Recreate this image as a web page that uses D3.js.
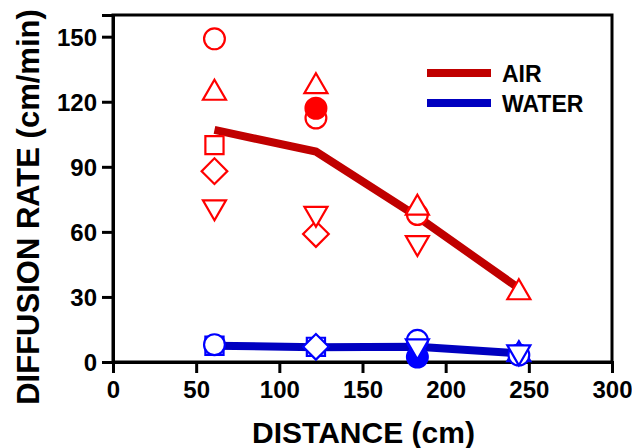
<!DOCTYPE html>
<html>
<head>
<meta charset="utf-8">
<script src="https://cdn.jsdelivr.net/npm/d3@7"></script>
<style>
  body { margin: 0; background: #fff; }
  text { font-family: "Liberation Sans", Arial, sans-serif; font-weight: bold; }
</style>
</head>
<body>
<div id="chart"></div>
<script>
const w = 632;
const h = 448;

const margin = { left: 113, right: 20, top: 15, bottom: 86 };

// distances (cm)
const distances = [61, 122, 183, 244];
const xTicks = [0, 50, 100, 150, 200, 250, 300];
const yTicks = [0, 30, 60, 90, 120, 150];

// mean lines
const airMean = [107, 97, 67, 34];
const waterMean = [7.5, 6.8, 7, 4];

// individual runs, air (null = no point)
const airCircle = [149, 112.5, 68, null];
const airDot = [null, 117, null, null];
const airTriUp = [124, 127, 71, 32];
const airTriDown = [71.5, 68.5, 55, null];
const airSquare = [100, null, null, null];
const airDiamond = [88, 59, null, null];

// individual runs, water
const waterCircle = [8, null, 10, 3.2];
const waterDot = [null, null, 2.3, null];
const waterTriUp = [null, null, null, 3.5];
const waterTriDown = [null, null, 7.4, 4.6];
const waterSquare = [7.5, 7, null, null];
const waterDiamond = [null, 7, null, null];

const svg = d3.select("#chart")
    .append("svg")
    .attr("width", w)
    .attr("height", h);

const x = d3.scaleLinear().domain([0, 300]).range([margin.left, w - margin.right]);
const y = d3.scaleLinear().domain([0, 160]).range([h - margin.bottom, margin.top]);

// frame
svg.append("rect")
    .attr("x", x(0)).attr("y", y(160))
    .attr("width", x(300) - x(0)).attr("height", y(0) - y(160))
    .attr("fill", "none").attr("stroke", "#000").attr("stroke-width", 3);

// axes
const xAxis = svg.append("g")
    .attr("transform", "translate(0," + y(0) + ")")
    .call(d3.axisBottom(x).tickValues(xTicks).tickSize(11).tickPadding(8));
const yAxis = svg.append("g")
    .attr("transform", "translate(" + x(0) + ",0)")
    .call(d3.axisLeft(y).tickValues(yTicks).tickSize(11).tickPadding(5));

[xAxis, yAxis].forEach(function(g) {
    g.select(".domain").attr("stroke-width", 3);
    g.selectAll(".tick line").attr("stroke-width", 3);
    g.selectAll(".tick text").attr("font-size", 24).attr("fill", "#000")
        .style("font-family", '"Liberation Sans", Arial, sans-serif').style("font-weight", "bold");
});
yAxis.selectAll(".tick text").attr("dy", "0.36em");

// titles
svg.append("text")
    .attr("x", (x(0) + x(300)) / 2 + 1).attr("y", 443)
    .attr("text-anchor", "middle").attr("font-size", 30)
    .text("DISTANCE (cm)");
svg.append("text")
    .attr("transform", "translate(39," + 207 + ") rotate(-90)")
    .attr("text-anchor", "middle").attr("font-size", 31)
    .text("DIFFUSION RATE (cm/min)");

// mean lines
const line = d3.line()
    .x(function(d, i) { return x(distances[i]); })
    .y(function(d) { return y(d); });

svg.append("path").datum(airMean)
    .attr("d", line).attr("fill", "none")
    .attr("stroke", "#c00000").attr("stroke-width", 8);
svg.append("path").datum(waterMean)
    .attr("d", line).attr("fill", "none")
    .attr("stroke", "#0000c0").attr("stroke-width", 8);

// markers
const shapes = {
    circle: { type: d3.symbolCircle, size: 340, rot: 0, filled: false },
    dot: { type: d3.symbolCircle, size: 340, rot: 0, filled: true },
    triUp: { type: d3.symbolTriangle, size: 230, rot: 0, filled: false },
    triDown: { type: d3.symbolTriangle, size: 230, rot: 180, filled: false },
    square: { type: d3.symbolSquare, size: 330, rot: 0, filled: false },
    diamond: { type: d3.symbolSquare, size: 330, rot: 45, filled: false }
};

let drawRun = function(values, shapeName, color) {
    const s = shapes[shapeName];
    const pts = values.map(function(v, i) { return { d: distances[i], v: v }; })
        .filter(function(p) { return p.v !== null; });
    svg.append("g").selectAll("path")
        .data(pts)
        .enter()
        .append("path")
        .attr("d", d3.symbol().type(s.type).size(s.size))
        .attr("transform", function(p) {
            return "translate(" + x(p.d) + "," + y(p.v) + ") rotate(" + s.rot + ")";
        })
        .attr("fill", s.filled ? color : "#fff")
        .attr("stroke", color)
        .attr("stroke-width", 2.2);
};

drawRun(airSquare, "square", "#ff0000");
drawRun(airDiamond, "diamond", "#ff0000");
drawRun(airTriDown, "triDown", "#ff0000");
drawRun(airCircle, "circle", "#ff0000");
drawRun(airDot, "dot", "#ff0000");
drawRun(airTriUp, "triUp", "#ff0000");

drawRun(waterSquare, "square", "#0000ff");
drawRun(waterDiamond, "diamond", "#0000ff");
drawRun(waterDot, "dot", "#0000ff");
drawRun(waterTriUp, "triUp", "#0000ff");
drawRun(waterCircle, "circle", "#0000ff");
drawRun(waterTriDown, "triDown", "#0000ff");

// legend
const legend = [
    { name: "AIR", color: "#c00000", y: 73 },
    { name: "WATER", color: "#0000c0", y: 103 }
];
const lg = svg.append("g");
lg.selectAll("line").data(legend).enter().append("line")
    .attr("x1", 427).attr("x2", 491)
    .attr("y1", function(d) { return d.y; }).attr("y2", function(d) { return d.y; })
    .attr("stroke", function(d) { return d.color; }).attr("stroke-width", 8);
lg.selectAll("text").data(legend).enter().append("text")
    .attr("x", 502).attr("y", function(d) { return d.y + 9; })
    .attr("font-size", 23)
    .text(function(d) { return d.name; });
</script>
</body>
</html>
